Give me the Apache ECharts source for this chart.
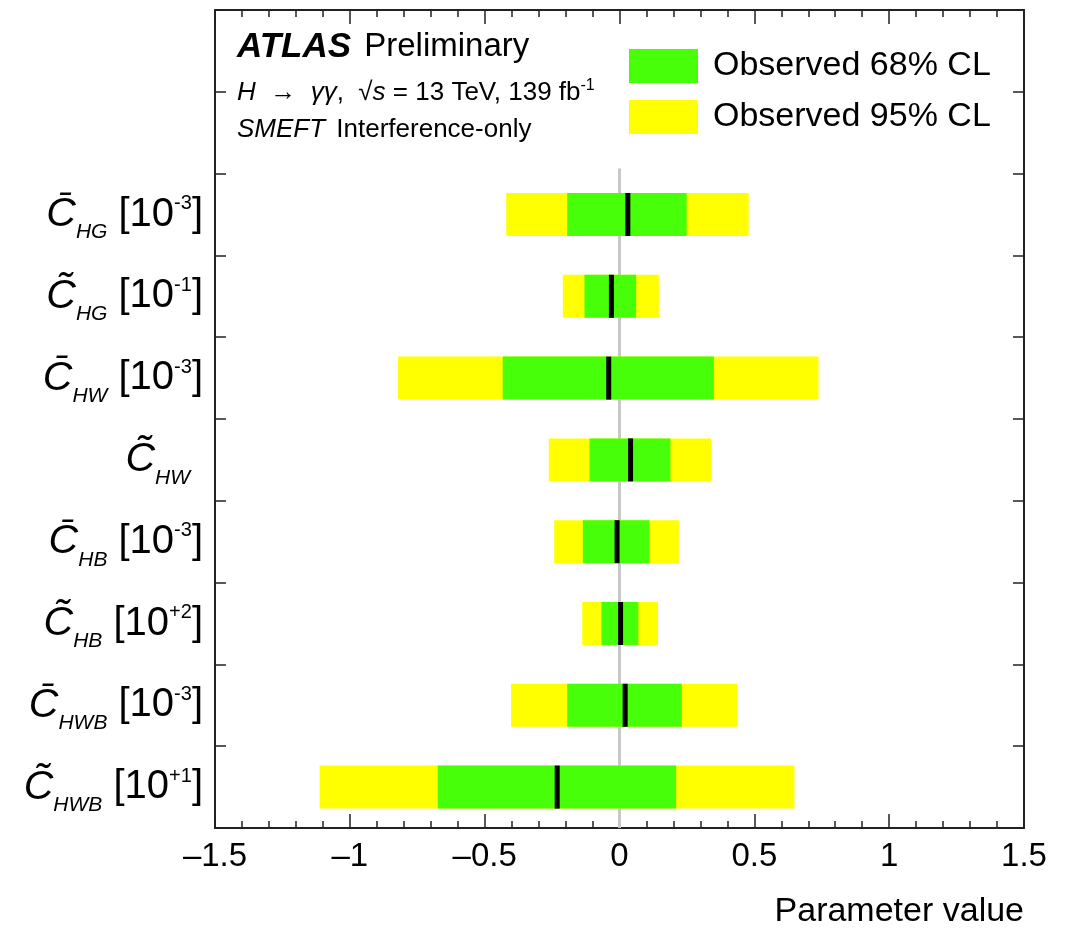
<!DOCTYPE html>
<html>
<head>
<meta charset="utf-8">
<script src="https://cdn.jsdelivr.net/npm/echarts@6/dist/echarts.min.js"></script>
<style>
html,body{margin:0;padding:0;background:#fff;}
#chart{width:1074px;height:936px;}
</style>
</head>
<body>
<div id="chart"></div>
<script>
// ---- data ----
const paramBase  = ['bar','tilde','bar','tilde','bar','tilde','bar','tilde'];
const paramSub   = ['HG','HG','HW','HW','HB','HB','HWB','HWB'];
const paramScale = ['-3','-1','-3','','-3','+2','-3','+1'];
const lo95 = [-0.420,-0.210,-0.821,-0.262,-0.242,-0.138,-0.402,-1.112];
const lo68 = [-0.194,-0.130,-0.433,-0.111,-0.136,-0.067,-0.194,-0.674];
const best = [ 0.031,-0.030,-0.040, 0.041,-0.009, 0.004, 0.021,-0.231];
const hi68 = [ 0.249, 0.062, 0.350, 0.189, 0.111, 0.070, 0.231, 0.210];
const hi95 = [ 0.479, 0.146, 0.738, 0.340, 0.220, 0.143, 0.436, 0.649];
const xTicks = [-1.5,-1,-0.5,0,0.5,1,1.5];
const legendNames = ['Observed 68% CL','Observed 95% CL'];

// ---- build ----
const FONT = 'Liberation Sans';
const padRows = 2;
const labels = paramSub.map((s,i)=>{
  const mark = paramBase[i]==='bar' ? '\u0304' : '\u0303';
  let t = '{c|C' + mark + '}';
  if (paramScale[i]) {
    t += '{sub|' + s + '}{m| [10}{sup|' + paramScale[i] + '}{m|]}';
  } else {
    t += '{subE|' + s + '}';
  }
  return t;
});
const yCats = ['', ' '].concat(labels);

const rows = paramSub.map((_,i)=>i+padRows);
const GREEN = '#48ff0a', YELLOW = '#ffff00';

function bandRender(color){
  return function(params, api){
    const y = api.value(2);
    const p0 = api.coord([api.value(0), y]);
    const p1 = api.coord([api.value(1), y]);
    const band = api.size([0,1])[1];
    const h = band*0.526;
    return {type:'rect', shape:{x:p0[0], y:p0[1]-h/2, width:p1[0]-p0[0], height:h},
            style:{fill:color}};
  };
}

const axisCol = '#222';
const option = {
  animation:false,
  backgroundColor:'#fff',
  grid:{left:215, right:50, top:10, bottom:108},
  legend:{
    data:legendNames, orient:'vertical', left:624, top:44,
    itemWidth:69, itemHeight:34, itemGap:17, icon:'rect',
    textStyle:{fontFamily:FONT, fontSize:34, color:'#000', padding:[0,0,0,10]},
    selectedMode:false
  },
  xAxis:[
    {type:'value', position:'bottom', min:xTicks[0], max:xTicks[xTicks.length-1], interval:0.5,
     axisLine:{show:true, onZero:false, lineStyle:{color:axisCol, width:2}},
     axisTick:{show:true, inside:true, length:14, lineStyle:{color:axisCol, width:1.5}},
     minorTick:{show:true, splitNumber:5, length:7, lineStyle:{color:axisCol, width:1.5}},
     splitLine:{show:false},
     axisLabel:{fontFamily:FONT, fontSize:33, color:'#000', margin:12,
       formatter:v=>String(v).replace('-','\u2013')}},
    {type:'value', position:'top', min:xTicks[0], max:xTicks[xTicks.length-1], interval:0.5,
     axisLine:{show:true, onZero:false, lineStyle:{color:axisCol, width:2}},
     axisTick:{show:true, inside:true, length:14, lineStyle:{color:axisCol, width:1.5}},
     minorTick:{show:true, splitNumber:5, length:7, lineStyle:{color:axisCol, width:1.5}},
     splitLine:{show:false}, axisLabel:{show:false}}
  ],
  yAxis:[
    {type:'category', inverse:true, data:yCats, position:'left',
     axisLine:{show:true, onZero:false, lineStyle:{color:axisCol, width:2}},
     axisTick:{show:true, inside:true, length:11, lineStyle:{color:axisCol, width:1.5}},
     splitLine:{show:false},
     axisLabel:{margin:12, color:'#000', fontFamily:FONT,
       rich:{
         c:{fontFamily:FONT, fontStyle:'italic', fontSize:41, color:'#000'},
         m:{fontFamily:FONT, fontSize:40, color:'#000'},
         sub:{fontFamily:FONT, fontStyle:'italic', fontSize:21, color:'#000', padding:[36,0,0,0]},
         subE:{fontFamily:FONT, fontStyle:'italic', fontSize:21, color:'#000', padding:[36,13,0,0]},
         sup:{fontFamily:FONT, fontSize:20, color:'#000', padding:[0,0,22,0]}
       }}},
    {type:'category', inverse:true, data:yCats, position:'right',
     axisLine:{show:true, onZero:false, lineStyle:{color:axisCol, width:2}},
     axisTick:{show:true, inside:true, length:11, lineStyle:{color:axisCol, width:1.5}},
     splitLine:{show:false}, axisLabel:{show:false}}
  ],
  series:[
    {type:'custom', name:'zero', xAxisIndex:0, yAxisIndex:0, silent:true,
     data:[[0, padRows, yCats.length-1]],
     encode:{x:0, y:[1,2]},
     renderItem:function(params, api){
       const band = api.size([0,1])[1];
       const a = api.coord([api.value(0), api.value(1)]);
       const b = api.coord([api.value(0), api.value(2)]);
       return {type:'line', shape:{x1:a[0], y1:a[1]-band/2-5, x2:b[0], y2:b[1]+band/2},
               style:{stroke:'#c8c8c8', lineWidth:3}};
     }},
    {type:'custom', name:legendNames[1], itemStyle:{color:YELLOW},
     data:rows.map((r,i)=>[lo95[i], hi95[i], r]), encode:{x:[0,1], y:2},
     renderItem:bandRender(YELLOW)},
    {type:'custom', name:legendNames[0], itemStyle:{color:GREEN},
     data:rows.map((r,i)=>[lo68[i], hi68[i], r]), encode:{x:[0,1], y:2},
     renderItem:bandRender(GREEN)},
    {type:'custom', name:'best', silent:true,
     data:rows.map((r,i)=>[best[i], best[i], r]), encode:{x:[0,1], y:2},
     renderItem:function(params, api){
       const y = api.value(2);
       const p = api.coord([api.value(0), y]);
       const band = api.size([0,1])[1];
       const h = band*0.526;
       return {type:'rect', shape:{x:p[0]-2.5, y:p[1]-h/2, width:5, height:h}, style:{fill:'#000'}};
     }}
  ],
  graphic:[
    {type:'text', x:237, y:47, style:{text:'{b|ATLAS}{r| Preliminary}', verticalAlign:'middle',
      rich:{b:{fontFamily:FONT, fontWeight:'bold', fontStyle:'italic', fontSize:35, fill:'#000'},
            r:{fontFamily:FONT, fontSize:33, fill:'#000', padding:[0,0,0,4]}}}},
    {type:'text', x:237, y:93, style:{text:'{i|H}{r|  \u2192  }{i|\u03b3\u03b3}{r|,  \u221a}{i|s}{r| = 13 TeV, 139 fb}{sup|-1}', verticalAlign:'middle',
      rich:{i:{fontFamily:FONT, fontStyle:'italic', fontSize:26, fill:'#000'},
            r:{fontFamily:FONT, fontSize:26, fill:'#000'},
            sup:{fontFamily:FONT, fontSize:16, fill:'#000', padding:[0,0,14,0]}}}},
    {type:'text', x:237, y:130, style:{text:'{i|SMEFT}{r| Interference-only}', verticalAlign:'middle',
      rich:{i:{fontFamily:FONT, fontStyle:'italic', fontSize:26, fill:'#000'},
            r:{fontFamily:FONT, fontSize:26, fill:'#000', padding:[0,0,0,4]}}}},
    {type:'text', x:1024, y:912, style:{text:'Parameter value', align:'right', verticalAlign:'middle',
      fontFamily:FONT, fontSize:34, fill:'#000'}}
  ]
};
const chart = echarts.init(document.getElementById('chart'), null, {renderer:'canvas'});
chart.setOption(option);
</script>
</body>
</html>
